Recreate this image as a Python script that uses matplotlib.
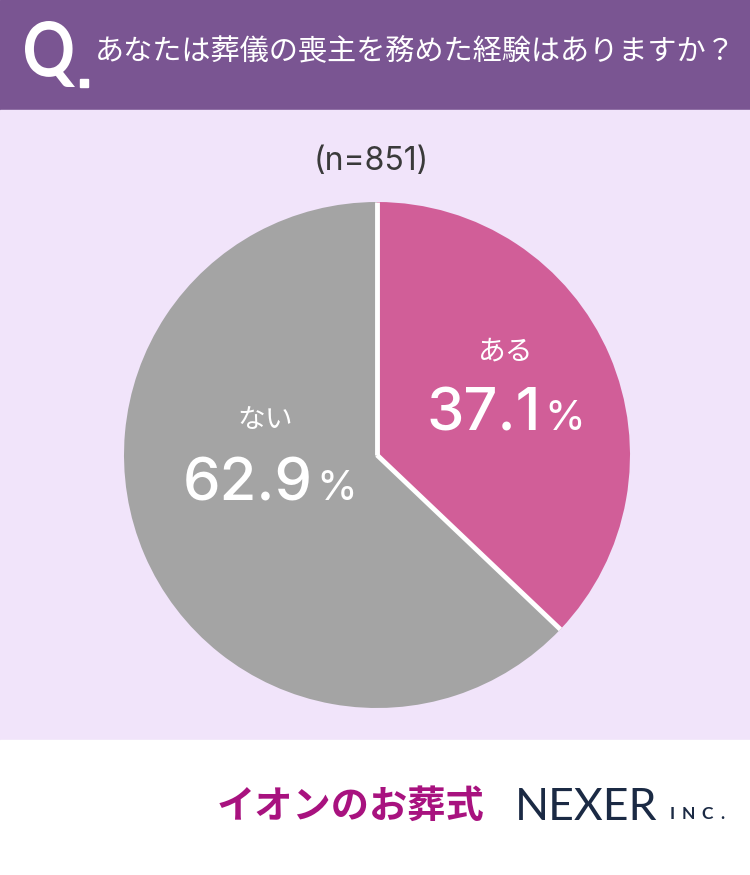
import numpy as np
import matplotlib
matplotlib.use("Agg")
import matplotlib.pyplot as plt
from matplotlib.patches import Rectangle, PathPatch
from matplotlib.textpath import TextPath
from matplotlib.font_manager import FontProperties
from matplotlib.transforms import Affine2D

plt.rcParams['font.family'] = ['Noto Sans CJK JP', 'DejaVu Sans']

# survey data
categories = ["ある", "ない"]
shares = [37.1, 62.9]
colors = ["#d15e98", "#a4a4a4"]
sample_label = "(n=851)"
question = "あなたは葬儀の喪主を務めた経験はありますか？"

W, H = 750, 875
fig = plt.figure(figsize=(W / 100, H / 100), dpi=100)

# background layer in pixel coordinates (origin top-left)
bg = fig.add_axes([0, 0, 1, 1])
bg.set_xlim(0, W)
bg.set_ylim(H, 0)
bg.axis("off")
bg.add_patch(Rectangle((0, 0), W, 110, color="#7a5592", zorder=0))
bg.add_patch(Rectangle((0, 110), W, 630, color="#f1e4fa", zorder=0))
bg.add_patch(Rectangle((0, 740), W, 135, color="#ffffff", zorder=0))

# header: condensed "Q" mark
qpath = TextPath((0, 0), "Q", size=100,
                 prop=FontProperties(family="Lato", weight="bold"))
ext = qpath.get_extents()
qh = 66.0 / (ext.y1 - ext.y0)      # target glyph height in px
qw = 50.0 / (ext.x1 - ext.x0)      # target glyph width in px
qtr = (Affine2D().translate(-ext.x0, -ext.y1).scale(qw, -qh).translate(25, 21))
bg.add_patch(PathPatch(qtr.transform_path(qpath), color="white", lw=0, zorder=2))
bg.add_patch(Rectangle((80, 79), 8, 8, color="white", zorder=2))
bg.text(95, 52, question, color="white", fontsize=21, ha="left", va="center")

bg.text(371, 161, sample_label, color="#3a3a3a", fontsize=23,
        family=["Inter", "DejaVu Sans"], ha="center", va="center")

# footer logos
bg.text(350, 806, "イオンのお葬式", color="#a8127f", fontsize=27.5,
        fontweight="bold", ha="center", va="center")
bg.text(515, 808, "NEXER", color="#1b2a44", fontsize=32,
        family=["Lato", "DejaVu Sans"], ha="left", va="center")
for i, ch in enumerate("INC."):
    bg.text(670 + [0, 12, 31, 50][i], 814, ch, color="#1b2a44", fontsize=12.5,
            family=["Lato", "DejaVu Sans"], fontweight="bold", ha="left", va="center")

# pie
cx, cy, r = 377, 455, 253
ax = fig.add_axes([(cx - r) / W, (H - cy - r) / H, 2 * r / W, 2 * r / H])
ax.pie(shares, colors=colors, startangle=90, counterclock=False,
       wedgeprops=dict(linewidth=0))
ax.set_xlim(-1, 1)
ax.set_ylim(-1, 1)
ax.set_aspect("equal")
ax.axis("off")

# white separators along wedge boundaries
bounds = 90 - 3.6 * np.concatenate([[0], np.cumsum(shares)[:-1]])
for a in np.deg2rad(bounds):
    ax.plot([0, np.cos(a)], [0, np.sin(a)], color="white", lw=3.5,
            solid_capstyle="butt")

# wedge labels on an overlay
top = fig.add_axes([0, 0, 1, 1])
top.set_xlim(0, W)
top.set_ylim(H, 0)
top.axis("off")
top.patch.set_alpha(0)
label_pos = [(506, 352, 541, 415), (265, 420, 313, 485)]
for cat, val, (lx, ly, vx, vy) in zip(categories, shares, label_pos):
    top.text(lx, ly, cat, color="white", fontsize=20, ha="center", va="center")
    top.text(vx, vy, f"{val:.1f}", color="white", fontsize=43,
             family=["Inter", "DejaVu Sans"], fontweight="medium",
             ha="right", va="center")
    top.text(vx + 3, vy + 4, "%", color="white", fontsize=30,
             family=["Inter", "DejaVu Sans"], ha="left", va="center")

fig.savefig("out.png", dpi=100)
